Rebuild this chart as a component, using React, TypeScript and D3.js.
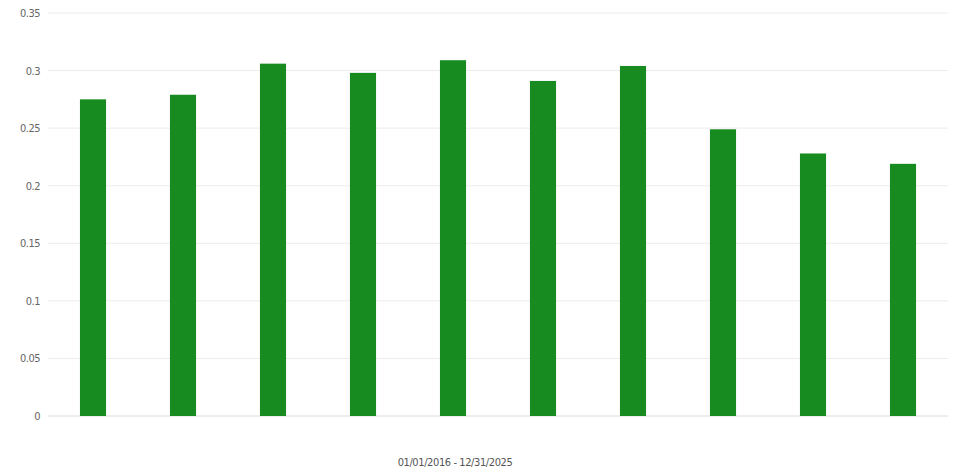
import React, { useEffect, useRef } from "react";
import * as d3 from "d3";

const categories = ["2016", "2017", "2018", "2019", "2020", "2021", "2022", "2023", "2024", "2025"];
const values = [0.275, 0.279, 0.306, 0.298, 0.309, 0.291, 0.304, 0.249, 0.228, 0.219];
const yTicks = [0, 0.05, 0.1, 0.15, 0.2, 0.25, 0.3, 0.35];
const xTitle = "01/01/2016 - 12/31/2025";

export default function App() {
  const ref = useRef<SVGSVGElement>(null);
  useEffect(() => {
    const svg = d3.select(ref.current);
    svg.selectAll("*").remove();
    const W = 964, H = 475;
    const left = 48, right = 948, top = 13, bottom = 416;
    const x = d3.scaleBand<string>().domain(categories).range([left, right]).paddingInner(0.71).paddingOuter(0.355);
    const y = d3.scaleLinear().domain([0, 0.35]).range([bottom, top]);
    svg.attr("width", W).attr("height", H);
    svg.append("rect").attr("width", W).attr("height", H).attr("fill", "#fff");
    const font = "'DejaVu Sans Condensed', 'Liberation Sans Narrow', sans-serif";
    const g = svg.append("g");
    g.selectAll("line.grid").data(yTicks).enter().append("line")
      .attr("x1", left).attr("x2", right)
      .attr("y1", d => y(d)).attr("y2", d => y(d))
      .attr("stroke", d => d === 0 ? "#dcdcdc" : "#ececec").attr("stroke-width", 1);
    g.selectAll("text.tick").data(yTicks).enter().append("text")
      .attr("x", 40).attr("y", d => y(d) + 4)
      .attr("text-anchor", "end")
      .attr("font-family", font).attr("font-size", 11).attr("fill", "#666")
      .attr("letter-spacing", -0.5)
      .text(d => String(d));
    g.selectAll("rect.bar").data(values).enter().append("rect")
      .attr("x", (d, i) => x(categories[i])!)
      .attr("width", x.bandwidth())
      .attr("y", d => y(d))
      .attr("height", d => y(0) - y(d))
      .attr("fill", "#178a20");
    g.append("text").attr("x", 455).attr("y", 466).attr("text-anchor", "middle")
      .attr("font-family", font).attr("font-size", 11).attr("fill", "#555")
      .attr("letter-spacing", -0.4)
      .text(xTitle);
  }, []);
  return <svg ref={ref} style={{ position: "absolute", left: 0, top: 0, display: "block" }} />;
}
